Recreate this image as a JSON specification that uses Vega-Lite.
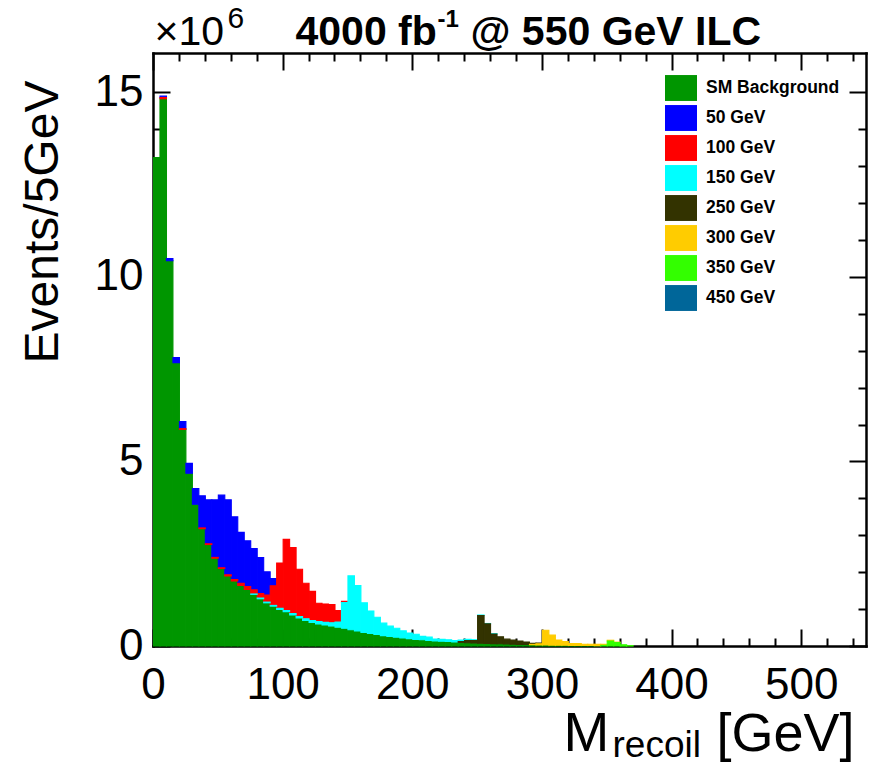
{
"$schema":"https://vega.github.io/schema/vega-lite/v6.json",
"width":713,"height":593,
"autosize":"none",
"padding":{"left":153,"top":53,"right":3,"bottom":118},
"background":"white",
"config":{"view":{"stroke":null},
"axis":{"grid":false,"tickColor":"#000","tickWidth":2,"zindex":1,"labelColor":"#000","titleColor":"#000","labelFont":"Liberation Sans","titleFont":"Liberation Sans","domainColor":"#000","domainWidth":2.5,"domainCap":"square","titleFontWeight":"normal","titleAlign":"left","titleBaseline":"alphabetic","labelFlush":false}},
"datasets":{
"stacking":[{"sample":"SM Background","stack_rank":0},{"sample":"450 GeV","stack_rank":1},{"sample":"350 GeV","stack_rank":2},{"sample":"300 GeV","stack_rank":3},{"sample":"250 GeV","stack_rank":4},{"sample":"150 GeV","stack_rank":5},{"sample":"100 GeV","stack_rank":6},{"sample":"50 GeV","stack_rank":7}],
"histos":[
{"sample":"SM Background","lo":0,"hi":5,"events":13240000},
{"sample":"SM Background","lo":5,"hi":10,"events":14830000},
{"sample":"SM Background","lo":10,"hi":15,"events":10440000},
{"sample":"SM Background","lo":15,"hi":20,"events":7680000},
{"sample":"SM Background","lo":20,"hi":25,"events":5870000},
{"sample":"SM Background","lo":25,"hi":30,"events":4680000},
{"sample":"SM Background","lo":30,"hi":35,"events":3840000},
{"sample":"SM Background","lo":35,"hi":40,"events":3180000},
{"sample":"SM Background","lo":40,"hi":45,"events":2750000},
{"sample":"SM Background","lo":45,"hi":50,"events":2380000},
{"sample":"SM Background","lo":50,"hi":55,"events":2100000},
{"sample":"SM Background","lo":55,"hi":60,"events":1900000},
{"sample":"SM Background","lo":60,"hi":65,"events":1760000},
{"sample":"SM Background","lo":65,"hi":70,"events":1640000},
{"sample":"SM Background","lo":70,"hi":75,"events":1530000},
{"sample":"SM Background","lo":75,"hi":80,"events":1400000},
{"sample":"SM Background","lo":80,"hi":85,"events":1280000},
{"sample":"SM Background","lo":85,"hi":90,"events":1170000},
{"sample":"SM Background","lo":90,"hi":95,"events":1080000},
{"sample":"SM Background","lo":95,"hi":100,"events":990000},
{"sample":"SM Background","lo":100,"hi":105,"events":930000},
{"sample":"SM Background","lo":105,"hi":110,"events":840000},
{"sample":"SM Background","lo":110,"hi":115,"events":760000},
{"sample":"SM Background","lo":115,"hi":120,"events":690000},
{"sample":"SM Background","lo":120,"hi":125,"events":640000},
{"sample":"SM Background","lo":125,"hi":130,"events":600000},
{"sample":"SM Background","lo":130,"hi":135,"events":570000},
{"sample":"SM Background","lo":135,"hi":140,"events":540000},
{"sample":"SM Background","lo":140,"hi":145,"events":510000},
{"sample":"SM Background","lo":145,"hi":150,"events":480000},
{"sample":"SM Background","lo":150,"hi":155,"events":440000},
{"sample":"SM Background","lo":155,"hi":160,"events":410000},
{"sample":"SM Background","lo":160,"hi":165,"events":370000},
{"sample":"SM Background","lo":165,"hi":170,"events":340000},
{"sample":"SM Background","lo":170,"hi":175,"events":310000},
{"sample":"SM Background","lo":175,"hi":180,"events":280000},
{"sample":"SM Background","lo":180,"hi":185,"events":260000},
{"sample":"SM Background","lo":185,"hi":190,"events":240000},
{"sample":"SM Background","lo":190,"hi":195,"events":220000},
{"sample":"SM Background","lo":195,"hi":200,"events":200000},
{"sample":"SM Background","lo":200,"hi":205,"events":180000},
{"sample":"SM Background","lo":205,"hi":210,"events":170000},
{"sample":"SM Background","lo":210,"hi":215,"events":150000},
{"sample":"SM Background","lo":215,"hi":220,"events":140000},
{"sample":"SM Background","lo":220,"hi":225,"events":130000},
{"sample":"SM Background","lo":225,"hi":230,"events":120000},
{"sample":"SM Background","lo":230,"hi":235,"events":110000},
{"sample":"SM Background","lo":235,"hi":240,"events":100000},
{"sample":"SM Background","lo":240,"hi":245,"events":90000},
{"sample":"SM Background","lo":245,"hi":250,"events":80000},
{"sample":"SM Background","lo":250,"hi":255,"events":75000},
{"sample":"SM Background","lo":255,"hi":260,"events":70000},
{"sample":"SM Background","lo":260,"hi":265,"events":65000},
{"sample":"SM Background","lo":265,"hi":270,"events":60000},
{"sample":"SM Background","lo":270,"hi":275,"events":55000},
{"sample":"SM Background","lo":275,"hi":280,"events":50000},
{"sample":"SM Background","lo":280,"hi":285,"events":45000},
{"sample":"SM Background","lo":285,"hi":290,"events":40000},
{"sample":"SM Background","lo":290,"hi":295,"events":35000},
{"sample":"SM Background","lo":295,"hi":300,"events":30000},
{"sample":"SM Background","lo":300,"hi":305,"events":28000},
{"sample":"SM Background","lo":305,"hi":310,"events":25000},
{"sample":"SM Background","lo":310,"hi":315,"events":22000},
{"sample":"SM Background","lo":315,"hi":320,"events":20000},
{"sample":"SM Background","lo":320,"hi":325,"events":18000},
{"sample":"SM Background","lo":325,"hi":330,"events":16000},
{"sample":"SM Background","lo":330,"hi":335,"events":14000},
{"sample":"SM Background","lo":335,"hi":340,"events":12000},
{"sample":"SM Background","lo":340,"hi":345,"events":10000},
{"sample":"SM Background","lo":345,"hi":350,"events":8000},
{"sample":"SM Background","lo":350,"hi":355,"events":6000},
{"sample":"SM Background","lo":355,"hi":360,"events":5000},
{"sample":"SM Background","lo":360,"hi":365,"events":4000},
{"sample":"50 GeV","lo":5,"hi":10,"events":40000},
{"sample":"50 GeV","lo":10,"hi":15,"events":60000},
{"sample":"50 GeV","lo":15,"hi":20,"events":140000},
{"sample":"50 GeV","lo":20,"hi":25,"events":190000},
{"sample":"50 GeV","lo":25,"hi":30,"events":270000},
{"sample":"50 GeV","lo":30,"hi":35,"events":430000},
{"sample":"50 GeV","lo":35,"hi":40,"events":870000},
{"sample":"50 GeV","lo":40,"hi":45,"events":1190000},
{"sample":"50 GeV","lo":45,"hi":50,"events":1560000},
{"sample":"50 GeV","lo":50,"hi":55,"events":1970000},
{"sample":"50 GeV","lo":55,"hi":60,"events":2030000},
{"sample":"50 GeV","lo":60,"hi":65,"events":1700000},
{"sample":"50 GeV","lo":65,"hi":70,"events":1380000},
{"sample":"50 GeV","lo":70,"hi":75,"events":1240000},
{"sample":"50 GeV","lo":75,"hi":80,"events":1120000},
{"sample":"50 GeV","lo":80,"hi":85,"events":980000},
{"sample":"50 GeV","lo":85,"hi":90,"events":630000},
{"sample":"50 GeV","lo":90,"hi":95,"events":200000},
{"sample":"100 GeV","lo":5,"hi":10,"events":30000},
{"sample":"100 GeV","lo":20,"hi":25,"events":20000},
{"sample":"100 GeV","lo":35,"hi":40,"events":20000},
{"sample":"100 GeV","lo":40,"hi":45,"events":20000},
{"sample":"100 GeV","lo":45,"hi":50,"events":20000},
{"sample":"100 GeV","lo":50,"hi":55,"events":20000},
{"sample":"100 GeV","lo":55,"hi":60,"events":30000},
{"sample":"100 GeV","lo":60,"hi":65,"events":40000},
{"sample":"100 GeV","lo":65,"hi":70,"events":60000},
{"sample":"100 GeV","lo":70,"hi":75,"events":80000},
{"sample":"100 GeV","lo":75,"hi":80,"events":110000},
{"sample":"100 GeV","lo":80,"hi":85,"events":120000},
{"sample":"100 GeV","lo":85,"hi":90,"events":190000},
{"sample":"100 GeV","lo":90,"hi":95,"events":530000},
{"sample":"100 GeV","lo":95,"hi":100,"events":1230000},
{"sample":"100 GeV","lo":100,"hi":105,"events":1930000},
{"sample":"100 GeV","lo":105,"hi":110,"events":1790000},
{"sample":"100 GeV","lo":110,"hi":115,"events":1280000},
{"sample":"100 GeV","lo":115,"hi":120,"events":960000},
{"sample":"100 GeV","lo":120,"hi":125,"events":790000},
{"sample":"100 GeV","lo":125,"hi":130,"events":500000},
{"sample":"100 GeV","lo":130,"hi":135,"events":500000},
{"sample":"100 GeV","lo":135,"hi":140,"events":490000},
{"sample":"100 GeV","lo":140,"hi":145,"events":310000},
{"sample":"100 GeV","lo":145,"hi":150,"events":30000},
{"sample":"150 GeV","lo":75,"hi":80,"events":10000},
{"sample":"150 GeV","lo":80,"hi":85,"events":20000},
{"sample":"150 GeV","lo":85,"hi":90,"events":20000},
{"sample":"150 GeV","lo":90,"hi":95,"events":20000},
{"sample":"150 GeV","lo":95,"hi":100,"events":30000},
{"sample":"150 GeV","lo":100,"hi":105,"events":30000},
{"sample":"150 GeV","lo":105,"hi":110,"events":40000},
{"sample":"150 GeV","lo":110,"hi":115,"events":40000},
{"sample":"150 GeV","lo":115,"hi":120,"events":50000},
{"sample":"150 GeV","lo":120,"hi":125,"events":50000},
{"sample":"150 GeV","lo":125,"hi":130,"events":60000},
{"sample":"150 GeV","lo":130,"hi":135,"events":70000},
{"sample":"150 GeV","lo":135,"hi":140,"events":90000},
{"sample":"150 GeV","lo":140,"hi":145,"events":140000},
{"sample":"150 GeV","lo":145,"hi":150,"events":700000},
{"sample":"150 GeV","lo":150,"hi":155,"events":1460000},
{"sample":"150 GeV","lo":155,"hi":160,"events":1230000},
{"sample":"150 GeV","lo":160,"hi":165,"events":800000},
{"sample":"150 GeV","lo":165,"hi":170,"events":610000},
{"sample":"150 GeV","lo":170,"hi":175,"events":470000},
{"sample":"150 GeV","lo":175,"hi":180,"events":340000},
{"sample":"150 GeV","lo":180,"hi":185,"events":280000},
{"sample":"150 GeV","lo":185,"hi":190,"events":240000},
{"sample":"150 GeV","lo":190,"hi":195,"events":190000},
{"sample":"150 GeV","lo":195,"hi":200,"events":150000},
{"sample":"150 GeV","lo":200,"hi":205,"events":140000},
{"sample":"150 GeV","lo":205,"hi":210,"events":90000},
{"sample":"150 GeV","lo":210,"hi":215,"events":90000},
{"sample":"150 GeV","lo":215,"hi":220,"events":50000},
{"sample":"150 GeV","lo":220,"hi":225,"events":50000},
{"sample":"150 GeV","lo":225,"hi":230,"events":50000},
{"sample":"150 GeV","lo":230,"hi":235,"events":40000},
{"sample":"150 GeV","lo":235,"hi":240,"events":40000},
{"sample":"150 GeV","lo":240,"hi":245,"events":30000},
{"sample":"150 GeV","lo":245,"hi":250,"events":20000},
{"sample":"150 GeV","lo":250,"hi":255,"events":15000},
{"sample":"150 GeV","lo":255,"hi":260,"events":10000},
{"sample":"150 GeV","lo":260,"hi":265,"events":10000},
{"sample":"250 GeV","lo":235,"hi":240,"events":20000},
{"sample":"250 GeV","lo":240,"hi":245,"events":60000},
{"sample":"250 GeV","lo":245,"hi":250,"events":70000},
{"sample":"250 GeV","lo":250,"hi":255,"events":750000},
{"sample":"250 GeV","lo":255,"hi":260,"events":530000},
{"sample":"250 GeV","lo":260,"hi":265,"events":260000},
{"sample":"250 GeV","lo":265,"hi":270,"events":190000},
{"sample":"250 GeV","lo":270,"hi":275,"events":130000},
{"sample":"250 GeV","lo":275,"hi":280,"events":110000},
{"sample":"250 GeV","lo":280,"hi":285,"events":90000},
{"sample":"250 GeV","lo":285,"hi":290,"events":70000},
{"sample":"250 GeV","lo":290,"hi":295,"events":30000},
{"sample":"250 GeV","lo":295,"hi":300,"events":20000},
{"sample":"300 GeV","lo":290,"hi":295,"events":10000},
{"sample":"300 GeV","lo":295,"hi":300,"events":30000},
{"sample":"300 GeV","lo":300,"hi":305,"events":400000},
{"sample":"300 GeV","lo":305,"hi":310,"events":270000},
{"sample":"300 GeV","lo":310,"hi":315,"events":140000},
{"sample":"300 GeV","lo":315,"hi":320,"events":100000},
{"sample":"300 GeV","lo":320,"hi":325,"events":50000},
{"sample":"300 GeV","lo":325,"hi":330,"events":50000},
{"sample":"300 GeV","lo":330,"hi":335,"events":35000},
{"sample":"300 GeV","lo":335,"hi":340,"events":35000},
{"sample":"300 GeV","lo":340,"hi":345,"events":35000},
{"sample":"300 GeV","lo":345,"hi":350,"events":30000},
{"sample":"300 GeV","lo":350,"hi":355,"events":20000},
{"sample":"300 GeV","lo":355,"hi":360,"events":10000},
{"sample":"350 GeV","lo":345,"hi":350,"events":10000},
{"sample":"350 GeV","lo":350,"hi":355,"events":130000},
{"sample":"350 GeV","lo":355,"hi":360,"events":90000},
{"sample":"350 GeV","lo":360,"hi":365,"events":30000},
{"sample":"350 GeV","lo":365,"hi":370,"events":10000}
]},
"data":{"name":"histos"},
"transform":[{"lookup":"sample","from":{"data":{"name":"stacking"},"key":"sample","fields":["stack_rank"]}}],
"resolve":{"axis":{"x":"independent","y":"independent"}},
"layer":[
{"mark":{"type":"bar","binSpacing":0,"strokeWidth":1.1},
"encoding":{
"x":{"field":"lo","type":"quantitative","bin":{"binned":true,"step":5},"scale":{"domain":[0,550],"nice":false,"zero":false},
 "axis":{"orient":"bottom","values":[0,100,200,300,400,500],"format":"d","tickSize":-17,"labelFontSize":44,"labelPadding":34,"domain":true,"title":"M","titleFontSize":55,"titleAngle":0,"titleX":410,"titleY":104}},
"x2":{"field":"hi"},
"y":{"field":"events","type":"quantitative","stack":"zero","scale":{"domain":[0,16070000],"nice":false},
 "axis":{"orient":"left","values":[0,5000000,10000000,15000000],"labelExpr":"datum.value / 1000000","tickSize":-17,"labelFontSize":44,"labelPadding":27,"domain":true,"title":"Events/5GeV","titleFontSize":48,"titleAngle":270,"titleAlign":"center","titleX":-96,"titleY":168.5}},
"color":{"field":"sample","type":"nominal",
 "scale":{"domain":["SM Background","50 GeV","100 GeV","150 GeV","250 GeV","300 GeV","350 GeV","450 GeV"],"range":["#009600","#0000ff","#ff0000","#00ffff","#333300","#ffcc00","#33ff00","#006699"]},
 "legend":{"orient":"none","legendX":512,"legendY":19,"title":null,"padding":0,"symbolType":"M-1,-0.81H1V0.81H-1Z","symbolSize":1024,"symbolStrokeWidth":0,"labelFont":"Liberation Sans","labelFontWeight":"bold","labelFontSize":17.5,"labelColor":"#000","labelOffset":9,"rowPadding":1}},
"stroke":{"field":"sample","type":"nominal",
 "scale":{"domain":["SM Background","50 GeV","100 GeV","150 GeV","250 GeV","300 GeV","350 GeV","450 GeV"],"range":["#009600","#0000ff","#ff0000","#00ffff","#333300","#ffcc00","#33ff00","#006699"]},
 "legend":null},
"order":{"field":"stack_rank","type":"quantitative","sort":"ascending"}}},
{"mark":{"type":"point","opacity":0,"size":1},
"encoding":{
"x":{"field":"lo","type":"quantitative","scale":{"domain":[0,550],"nice":false,"zero":false},
 "axis":{"orient":"bottom","values":[20,40,60,80,120,140,160,180,220,240,260,280,320,340,360,380,420,440,460,480,520,540],"tickSize":-8,"labels":false,"domain":false,"title":"recoil","titleFontSize":37,"titleAngle":0,"titleX":459,"titleY":110}},
"y":{"field":"events","type":"quantitative","scale":{"domain":[0,16070000],"nice":false},
 "axis":{"orient":"left","values":[1000000,2000000,3000000,4000000,6000000,7000000,8000000,9000000,11000000,12000000,13000000,14000000],"tickSize":-8,"labels":false,"domain":false,"title":"6","titleFontSize":30,"titleAngle":0,"titleX":74,"titleY":-26}}}},
{"mark":{"type":"point","opacity":0,"size":1},
"encoding":{
"x":{"field":"lo","type":"quantitative","scale":{"domain":[0,550],"nice":false,"zero":false},
 "axis":{"orient":"top","values":[0,100,200,300,400,500],"tickSize":-17,"labels":false,"domain":true,"title":"[GeV]","titleFontSize":54,"titleAngle":0,"titleX":563,"titleY":697}},
"y":{"field":"events","type":"quantitative","scale":{"domain":[0,16070000],"nice":false},
 "axis":{"orient":"right","values":[0,5000000,10000000,15000000],"tickSize":-17,"labels":false,"domain":true,"title":"4000 fb","titleFontSize":41,"titleFontWeight":"bold","titleAngle":0,"titleX":-571,"titleY":-9}}}},
{"mark":{"type":"point","opacity":0,"size":1},
"encoding":{
"x":{"field":"lo","type":"quantitative","scale":{"domain":[0,550],"nice":false,"zero":false},
 "axis":{"orient":"top","values":[20,40,60,80,120,140,160,180,220,240,260,280,320,340,360,380,420,440,460,480,520,540],"tickSize":-8,"labels":false,"domain":false,"title":"×10","titleFontSize":41,"titleAngle":0,"titleX":1,"titleY":-9}},
"y":{"field":"events","type":"quantitative","scale":{"domain":[0,16070000],"nice":false},
 "axis":{"orient":"right","values":[1000000,2000000,3000000,4000000,6000000,7000000,8000000,9000000,11000000,12000000,13000000,14000000],"tickSize":-8,"labels":false,"domain":false,"title":"-1","titleFontSize":24,"titleFontWeight":"bold","titleAngle":0,"titleX":-429,"titleY":-27}}}},
{"mark":{"type":"point","opacity":0,"size":1},
"encoding":{
"x":{"field":"lo","type":"quantitative","scale":{"domain":[0,550],"nice":false,"zero":false},
 "axis":{"orient":"top","ticks":false,"labels":false,"domain":false,"title":"@ 550 GeV ILC","titleFontSize":41,"titleFontWeight":"bold","titleAngle":0,"titleX":317,"titleY":-9}},
"y":{"field":"events","type":"quantitative","scale":{"domain":[0,16070000],"nice":false},"axis":null}}}
]
}
